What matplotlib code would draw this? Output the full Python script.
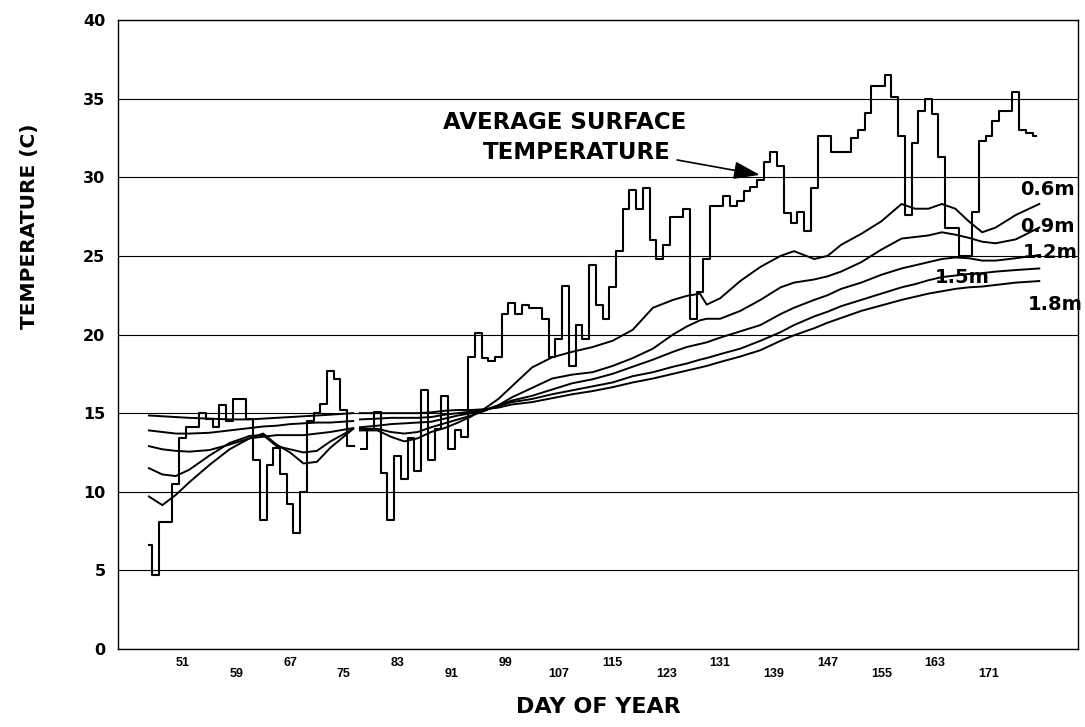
import numpy as np
import matplotlib
matplotlib.use("Agg")
import matplotlib.pyplot as plt

nan = np.nan

# ---------------- data ----------------
surface_days = np.arange(46, 179)
surface_temp = [
    6.6, 4.7, 8.1, 8.1, 10.5, 13.4, 14.1, 14.1, 15.0, 14.6,
    14.1, 15.5, 14.5, 15.9, 15.9, 14.6, 12.0, 8.2, 11.7, 12.8,
    11.1, 9.2, 7.4, 10.0, 14.5, 15.0, 15.6, 17.7, 17.2, 15.2,
    12.9, nan, 12.7, 14.0, 15.1, 11.2, 8.2, 12.3, 10.8, 13.4,
    11.3, 16.5, 12.0, 14.0, 16.1, 12.7, 13.9, 13.5, 18.6, 20.1,
    18.5, 18.3, 18.6, 21.3, 22.0, 21.3, 21.9, 21.7, 21.7, 21.0,
    18.6, 19.7, 23.1, 18.0, 20.6, 19.7, 24.4, 21.9, 21.0, 23.0,
    25.3, 28.0, 29.2, 28.0, 29.3, 26.0, 24.8, 25.7, 27.5, 27.5,
    28.0, 21.0, 22.7, 24.8, 28.2, 28.2, 28.8, 28.2, 28.5, 29.1,
    29.4, 29.8, 31.0, 31.6, 30.7, 27.7, 27.1, 27.8, 26.6, 29.3,
    32.6, 32.6, 31.6, 31.6, 31.6, 32.5, 33.0, 34.1, 35.8, 35.8,
    36.5, 35.1, 32.6, 27.6, 32.2, 34.2, 35.0, 34.0, 31.3, 26.8,
    26.8, 25.0, 25.0, 27.8, 32.3, 32.6, 33.6, 34.2, 34.2, 35.4,
    33.0, 32.8, 32.6,
]

depth_days = [
    46, 48, 50, 52, 55, 58, 61, 63, 65, 67,
    69, 71, 73, 76.4, 77, 77.4, 80, 82, 84, 86,
    88, 90, 92, 94, 96, 98, 100, 103, 106, 109,
    112, 115, 118, 121, 124, 126, 128, 129, 131, 134,
    137, 140, 142, 145, 147, 149, 152, 155, 158, 160,
    162, 164, 166, 168, 170, 172, 175, 178.5,
]
depth_06 = [
    9.7, 9.15, 9.8, 10.6, 11.7, 12.7, 13.4, 13.7, 13.0, 12.5,
    11.8, 11.9, 12.8, 14.0, nan, 13.9, 13.9, 13.5, 13.2, 13.4,
    13.8, 14.05, 14.4, 14.8, 15.3, 15.9, 16.7, 17.9, 18.55, 18.9,
    19.2, 19.6, 20.3, 21.7, 22.2, 22.45, 22.6, 21.9, 22.3, 23.4,
    24.3, 25.0, 25.3, 24.8, 25.0, 25.7, 26.4, 27.2, 28.3, 28.0,
    28.0, 28.3, 28.0, 27.2, 26.5, 26.8, 27.6, 28.3,
]
depth_09 = [
    11.5, 11.1, 11.0, 11.4, 12.3, 13.1, 13.55, 13.6, 12.9, 12.7,
    12.5, 12.6, 13.2, 14.0, nan, 14.0, 14.0, 13.8, 13.7, 13.8,
    14.1, 14.35, 14.6, 14.85, 15.15, 15.5, 16.0, 16.6, 17.2, 17.45,
    17.6, 18.0, 18.5, 19.1, 20.0, 20.5, 20.9, 21.0, 21.0, 21.5,
    22.2, 23.0, 23.3, 23.5, 23.7, 24.0, 24.6, 25.4, 26.1, 26.2,
    26.3, 26.5, 26.35, 26.15, 25.9, 25.8, 26.05, 26.8,
]
depth_12 = [
    12.9, 12.7, 12.6, 12.55, 12.65, 13.0, 13.4, 13.5, 13.6, 13.6,
    13.6, 13.7, 13.8, 14.05, nan, 14.1, 14.2, 14.3, 14.35, 14.4,
    14.45, 14.65, 14.85, 15.0, 15.2, 15.5, 15.8, 16.1, 16.5, 16.9,
    17.15, 17.5, 17.95, 18.4, 18.9, 19.2, 19.4, 19.5, 19.8, 20.2,
    20.6, 21.3, 21.7, 22.2, 22.5, 22.9, 23.3, 23.8, 24.2, 24.4,
    24.6, 24.8, 24.9, 24.85, 24.7, 24.7, 24.85, 25.05,
]
depth_15 = [
    13.9, 13.8, 13.7, 13.7, 13.75, 13.9, 14.05, 14.15, 14.2, 14.3,
    14.35, 14.4, 14.4, 14.5, nan, 14.6, 14.65, 14.7, 14.7, 14.7,
    14.75, 14.9, 15.0, 15.1, 15.2, 15.45, 15.7, 15.9, 16.2, 16.45,
    16.7, 16.95, 17.35, 17.6, 17.95, 18.15, 18.4, 18.5, 18.75, 19.1,
    19.6, 20.15, 20.6, 21.15, 21.45, 21.8, 22.2, 22.6, 23.0, 23.2,
    23.45, 23.65, 23.75, 23.85, 23.9, 24.0, 24.1, 24.2,
]
depth_18 = [
    14.85, 14.8, 14.75, 14.7, 14.65, 14.6, 14.6, 14.65, 14.7, 14.75,
    14.8, 14.85, 14.9, 15.0, nan, 15.0, 15.0, 15.0, 15.0, 15.0,
    15.05, 15.15, 15.2, 15.2, 15.25, 15.35, 15.55, 15.7, 15.95, 16.2,
    16.4, 16.65, 16.95, 17.2, 17.5, 17.7, 17.9, 18.0, 18.25, 18.6,
    19.0, 19.6, 19.95, 20.4, 20.75, 21.05, 21.5, 21.85, 22.2, 22.4,
    22.6, 22.75, 22.9, 23.0, 23.05, 23.15, 23.3, 23.4,
]
depth_labels = ["0.6m", "0.9m", "1.2m", "1.5m", "1.8m"]
depth_label_pos = [(175.7, 29.2), (175.7, 26.85), (176.1, 25.2), (163.0, 23.6), (176.8, 21.9)]

x_ticks = [51, 59, 67, 75, 83, 91, 99, 107, 115, 123, 131, 139, 147, 155, 163, 171]
y_ticks = [0, 5, 10, 15, 20, 25, 30, 35, 40]

# ---------------- figure ----------------
W, H = 1085, 727
fig = plt.figure(figsize=(W / 100, H / 100), dpi=100)
ax = fig.add_axes([118 / W, 1 - 649 / H, 960 / W, 629 / H])

ax.plot(surface_days, surface_temp, drawstyle="steps-mid", color="black", lw=1.5)
for vals in (depth_06, depth_09, depth_12, depth_15, depth_18):
    ax.plot(depth_days, vals, color="black", lw=1.4)

ax.set_xlim(41.4, 184.26)
ax.set_ylim(0, 40)

bold = dict(fontweight="bold", color="black")

ax.set_yticks(y_ticks)
ax.set_yticklabels([str(v) for v in y_ticks], family="DejaVu Sans", fontsize=11.5, **bold)
ax.yaxis.grid(True, color="black", lw=0.8)
ax.set_axisbelow(True)
ax.tick_params(axis="y", length=0, pad=9)

ax.set_xticks(x_ticks[0::2])
ax.set_xticklabels([str(v) for v in x_ticks[0::2]], family="Liberation Sans", fontsize=9, **bold)
ax.set_xticks(x_ticks[1::2], minor=True)
ax.set_xticklabels([str(v) for v in x_ticks[1::2]], minor=True, family="Liberation Sans", fontsize=9, **bold)
ax.tick_params(axis="x", which="major", length=0, pad=6)
ax.tick_params(axis="x", which="minor", length=0, pad=14)

for s in ax.spines.values():
    s.set_color("black")
    s.set_linewidth(1.0)

fig.text(30 / W, 1 - 226 / H, "TEMPERATURE (C)", rotation=90, ha="center", va="center",
         family="DejaVu Sans", fontsize=14.5, **bold)
fig.text(598 / W, 1 - 707 / H, "DAY OF YEAR", ha="center", va="center",
         family="DejaVu Sans", fontsize=16, **bold)

ax.text(107.9, 33.5, "AVERAGE SURFACE", ha="center", va="center",
        family="DejaVu Sans", fontsize=16.5, **bold)
ax.text(109.7, 31.55, "TEMPERATURE", ha="center", va="center",
        family="DejaVu Sans", fontsize=16.5, **bold)
ax.annotate("", xy=(136.9, 30.15), xytext=(124.6, 31.1),
            arrowprops=dict(arrowstyle="-|>,head_length=1.6,head_width=0.55",
                            color="black", lw=1.2, shrinkA=0, shrinkB=0))

for lab, (xd, yd) in zip(depth_labels, depth_label_pos):
    ax.text(xd, yd, lab, ha="left", va="center", family="DejaVu Sans",
            fontsize=14, clip_on=False, **bold)

fig.savefig("out.png", dpi=100, facecolor="white")
